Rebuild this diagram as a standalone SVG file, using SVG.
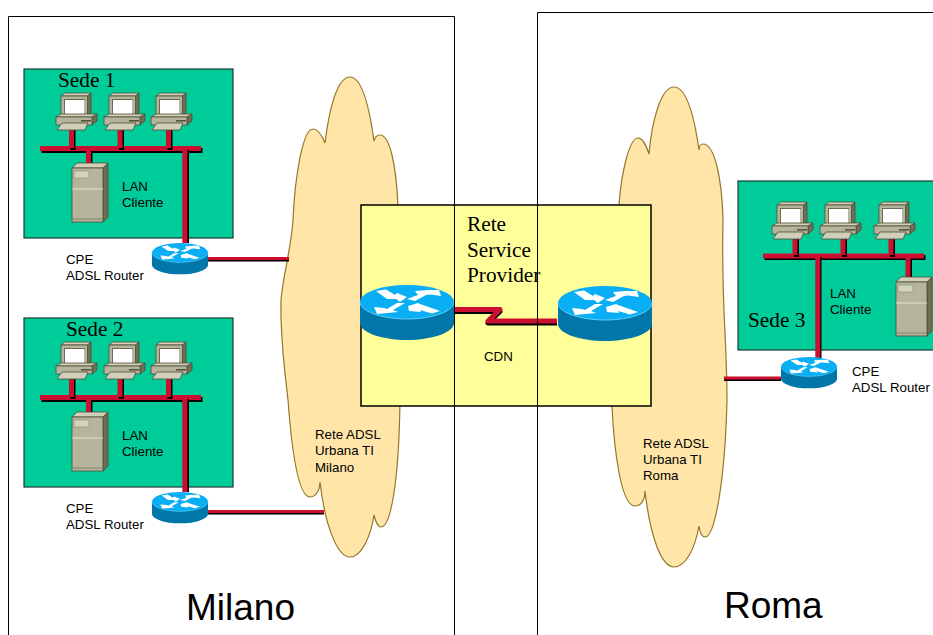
<svg xmlns="http://www.w3.org/2000/svg" xmlns:xlink="http://www.w3.org/1999/xlink" width="933" height="635" viewBox="0 0 933 635">
<style>
text{font-family:"Liberation Sans",Arial,sans-serif;font-size:13.3px;fill:#000}
.serif{font-family:"Liberation Serif","Times New Roman",serif;font-size:21.3px}
.city{font-size:37px}
.site{fill:#00CC99;stroke:#1c3a32;stroke-width:1.2}
.cloud{fill:#FFE6A8;stroke:#94762c;stroke-width:1.2}
.sp{fill:#FFFF99;stroke:#000;stroke-width:1.5}
.frame{fill:none;stroke:#000;stroke-width:1}
.w{fill:none;stroke:#CC0E30;stroke-width:5}
.s{fill:none;stroke:#000;stroke-width:5}
.t{fill:none;stroke:#CC0E30;stroke-width:3}
.ts{fill:none;stroke:#000;stroke-width:3}
.cdn{fill:none;stroke:#CC0E30;stroke-width:5;stroke-linejoin:round}
.cdns{fill:none;stroke:#000;stroke-width:5;stroke-linejoin:round}
.a{fill:#fff}
.e{stroke:#4f4f3a;stroke-width:.8}
.f1{fill:#B5B59C}.f2{fill:#D0D0B8}.f3{fill:#6E6E55}
</style>
<defs>
<g id="pc">
<polygon class="f2 e" points="5,3 9,0 35,0 31.500,3"/>
<polygon class="f3 e" points="31.500,3 35,0 35,20 31.500,24"/>
<rect class="f1 e" x="5" y="3" width="26.500" height="21"/>
<rect x="8" y="6" width="21" height="16" fill="#6b6b55"/>
<rect x="9" y="7" width="19.500" height="15" fill="#fff"/>
<polygon class="f2 e" points="0,24 5,21 41,21 36,24"/>
<polygon class="f3 e" points="36,24 41,21 41,28 36,32"/>
<rect class="f1 e" x="0" y="24" width="36" height="8"/>
<rect x="25" y="27" width="10" height="1.600" fill="#55553f"/>
<polygon class="f2 e" points="1,37 6,30 32,30 29,37"/>
</g>
<g id="server">
<polygon class="f2 e" points="0,5 5,0 36,0 31,5"/>
<polygon class="f3 e" points="31,5 36,0 36,54 31,59"/>
<rect class="f1 e" x="0" y="5" width="31" height="54"/>
<rect x="2" y="8" width="15" height="7" fill="#d3d3bf" stroke="#8a8a72" stroke-width=".6"/>
<line x1="0" y1="26" x2="31" y2="26" stroke="#eeeee0" stroke-width=".8"/>
<line x1="0" y1="56" x2="31" y2="56" stroke="#77775f" stroke-width=".8"/>
</g>
<g id="router">
<path d="M0,17V38C0,47 21,55 47,55S94,47 94,38V17Z" fill="#0077A8"/>
<ellipse cx="47" cy="17" rx="47" ry="17" fill="#0AAEF5"/>
<path d="M0,17C0,26 21,34 47,34S94,26 94,17" fill="none" stroke="#5fd0f5" stroke-width="1"/>
<polygon class="a" points="16,6 26,4.500 35,10 37,8 47,12 40,17 36,14 27,14"/>
<polygon class="a" points="47,14 58,10 55,6 68,5 79,5 81,11 70,9.500 66,10 55,16"/>
<polygon class="a" points="45,18 33,25 38,27 17,29 14,22 24,23 27,24 37,18"/>
<polygon class="a" points="48,21 58,18 60,19 80,26 72,28.500 60,25 61,27 49,26"/>
</g>
</defs>
<rect width="933" height="635" fill="#fff"/>

<g id="cloud-milano">
<path class="cloud" d="M325,143C321,133 317,129 313,129C303,129 295,175 293,220C291,250 283,275 281,300C280,340 286,380 288,400C291,440 297,497 310,497C316,497 320,490 320,482C325,525 337,557 350,557C362,557 371,535 374,515C376,523 378,527 381,527C391,527 399,480 400,400L398,205C396,165 390,135 380,135C377,135 375,137 374,141C369,105 362,77 350,77C337,77 329,110 325,143Z"/>
</g>
<g id="cloud-roma">
<path class="cloud" d="M649,154C646,145 643,138 638,138C629,138 621,175 619,205L612,406C614,450 621,506 635,506C641,506 645,500 645,491C650,535 661,567 674,567C686,567 695,548 699,526C700,533 702,537 705,537C715,537 725,480 727,400C727,340 721,300 723,220C722,180 715,144 703,144C700,144 699,147 699,150C694,115 686,87 674,87C661,87 652,120 649,154Z"/>
</g>
<g id="service-provider"><rect class="sp" x="361" y="205" width="290" height="201"/></g>
<g id="sede-1-area"><rect class="site" x="24" y="69" width="209" height="169"/></g>
<g id="sede-2-area"><rect class="site" x="24" y="318" width="209" height="169"/></g>
<g id="sede-3-area"><rect class="site" x="738" y="181" width="197" height="169"/></g>

<g id="connectors">
<path class="s" d="M41.500,150.500H202.500"/><path class="w" d="M40,148.500H201"/>
<path class="s" d="M73,130V150"/><path class="w" d="M71.500,130V148"/>
<path class="s" d="M121.500,130V150"/><path class="w" d="M120,130V148"/>
<path class="s" d="M170,130V150"/><path class="w" d="M168.500,130V148"/>
<path class="s" d="M90,152V163"/><path class="w" d="M88.500,151V163"/>
<path class="s" d="M186.500,150V243"/><path class="w" d="M184.800,148V243"/>
<path class="ts" d="M208,260H289"/><path class="t" d="M208,258.500H289"/>

<path class="s" d="M41.500,399.500H202.500"/><path class="w" d="M40,397.500H201"/>
<path class="s" d="M73,379V399"/><path class="w" d="M71.500,379V397"/>
<path class="s" d="M121.500,379V399"/><path class="w" d="M120,379V397"/>
<path class="s" d="M170,379V399"/><path class="w" d="M168.500,379V397"/>
<path class="s" d="M90,401V412"/><path class="w" d="M88.500,400V412"/>
<path class="s" d="M186.500,399V492"/><path class="w" d="M184.800,397V492"/>
<path class="ts" d="M208,513H324"/><path class="t" d="M208,511.500H324"/>

<path class="s" d="M764.500,257.500H925.500"/><path class="w" d="M763,256H924"/>
<path class="s" d="M796.500,238V257"/><path class="w" d="M795,238V255"/>
<path class="s" d="M844.500,238V257"/><path class="w" d="M843,238V255"/>
<path class="s" d="M892.500,238V257"/><path class="w" d="M891,238V255"/>
<path class="s" d="M909.500,259V277"/><path class="w" d="M908,258V277"/>
<path class="s" d="M819,257V358"/><path class="w" d="M817.800,255V358"/>
<path class="ts" d="M724,379.500H781"/><path class="t" d="M724,378H781"/>

<path class="cdns" d="M454,311.500H500L488,323H557"/><path class="cdn" d="M454,309.500H500L488,321H557"/>
</g>

<g id="pc-1-1"><use xlink:href="#pc" href="#pc" x="56" y="93"/></g>
<g id="pc-1-2"><use xlink:href="#pc" href="#pc" x="104" y="93"/></g>
<g id="pc-1-3"><use xlink:href="#pc" href="#pc" x="151" y="93"/></g>
<g id="server-1"><use xlink:href="#server" href="#server" x="72" y="163"/></g>
<g id="router-1"><use xlink:href="#router" href="#router" transform="translate(152,243) scale(.596,.57)"/></g>

<g id="pc-2-1"><use xlink:href="#pc" href="#pc" x="56" y="342"/></g>
<g id="pc-2-2"><use xlink:href="#pc" href="#pc" x="104" y="342"/></g>
<g id="pc-2-3"><use xlink:href="#pc" href="#pc" x="151" y="342"/></g>
<g id="server-2"><use xlink:href="#server" href="#server" x="72" y="412"/></g>
<g id="router-2"><use xlink:href="#router" href="#router" transform="translate(152,492) scale(.596,.57)"/></g>

<g id="pc-3-1"><use xlink:href="#pc" href="#pc" x="772" y="202"/></g>
<g id="pc-3-2"><use xlink:href="#pc" href="#pc" x="820" y="202"/></g>
<g id="pc-3-3"><use xlink:href="#pc" href="#pc" x="874" y="202"/></g>
<g id="server-3"><use xlink:href="#server" href="#server" x="896" y="277"/></g>
<g id="router-3"><use xlink:href="#router" href="#router" transform="translate(781,357) scale(.596,.57)"/></g>

<g id="router-sp-1"><use xlink:href="#router" href="#router" x="360" y="285"/></g>
<g id="router-sp-2"><use xlink:href="#router" href="#router" x="558" y="286"/></g>

<g id="labels">
<text class="serif" x="58" y="87">Sede 1</text>
<text class="serif" x="66" y="336">Sede 2</text>
<text class="serif" x="748" y="327">Sede 3</text>
<text class="serif" x="467" y="231">Rete</text>
<text class="serif" x="467" y="257">Service</text>
<text class="serif" x="467" y="282">Provider</text>
<text x="122" y="191">LAN</text><text x="122" y="207">Cliente</text>
<text x="122" y="440">LAN</text><text x="122" y="456">Cliente</text>
<text x="830" y="298">LAN</text><text x="830" y="314">Cliente</text>
<text x="66" y="264">CPE</text><text x="66" y="280">ADSL Router</text>
<text x="66" y="513">CPE</text><text x="66" y="529">ADSL Router</text>
<text x="852" y="376">CPE</text><text x="852" y="392">ADSL Router</text>
<text x="484" y="361">CDN</text>
<text x="315" y="439">Rete ADSL</text><text x="315" y="455">Urbana TI</text><text x="315" y="472">Milano</text>
<text x="643" y="448">Rete ADSL</text><text x="643" y="464">Urbana TI</text><text x="643" y="480">Roma</text>
</g>

<g id="milano"><path class="frame" d="M8.500,635V16.500H454.500V635"/><text class="city" x="186" y="620">Milano</text></g>
<g id="roma"><path class="frame" d="M537.500,635V12.500H933"/><text class="city" x="724" y="618">Roma</text></g>
</svg>
